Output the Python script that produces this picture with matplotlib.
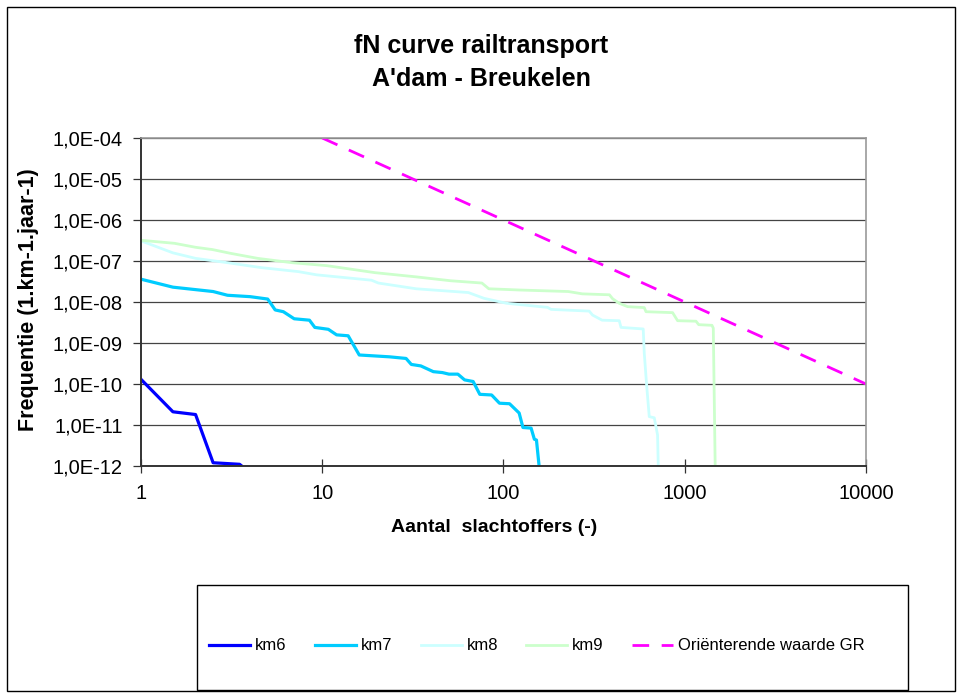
import matplotlib
matplotlib.use("Agg")
import matplotlib.pyplot as plt
from matplotlib.patches import Rectangle
from matplotlib.ticker import FixedLocator, NullLocator

plt.rcParams['font.family'] = ['Liberation Sans', 'DejaVu Sans']

km6_n = [1, 1.5, 2.0, 2.5, 3.5, 3.7]
km6_f = [1.3e-10, 2.1e-11, 1.8e-11, 1.2e-12, 1.1e-12, 9e-13]

km7_n = [1, 1.5, 2.5, 3.0, 4.0, 5.0, 5.5, 6.1, 7.0, 8.5,
         9.1, 10.8, 12.0, 13.9, 16.0, 23.5, 29, 31, 35, 41,
         46, 50, 56, 61, 68, 74, 86, 95, 108, 122,
         128, 142, 148, 152, 158]
km7_f = [3.6e-8, 2.3e-8, 1.8e-8, 1.46e-8, 1.35e-8, 1.18e-8, 6.4e-9, 5.8e-9, 3.9e-9, 3.6e-9,
         2.4e-9, 2.16e-9, 1.58e-9, 1.5e-9, 5.1e-10, 4.6e-10, 4.2e-10, 3.0e-10, 2.76e-10, 2.0e-10,
         1.9e-10, 1.74e-10, 1.74e-10, 1.26e-10, 1.15e-10, 5.6e-11, 5.4e-11, 3.4e-11, 3.3e-11, 1.96e-11,
         8.7e-12, 8.4e-12, 4.5e-12, 4.3e-12, 8e-13]

km8_n = [1, 1.5, 2.0, 3.0, 4.6, 7.4, 9.3, 18.7, 20.4, 33,
         64, 78, 104, 175, 183, 297, 310, 350, 435, 445,
         590, 598, 616, 637, 679, 708, 715]
km8_f = [3.1e-7, 1.58e-7, 1.16e-7, 9.1e-8, 6.9e-8, 5.5e-8, 4.6e-8, 3.4e-8, 2.9e-8, 2.1e-8,
         1.7e-8, 1.23e-8, 9.3e-9, 7.4e-9, 6.6e-9, 6.0e-9, 4.8e-9, 3.6e-9, 3.5e-9, 2.4e-9,
         2.2e-9, 5.6e-10, 9.5e-11, 1.6e-11, 1.5e-11, 5.7e-12, 8e-13]

km9_n = [1, 1.53, 2.0, 2.48, 3.09, 4.4, 6.8, 10.6, 19.5, 33,
         51, 76, 83, 123, 228, 272, 384, 400, 435, 484,
         598, 611, 857, 913, 1153, 1194, 1413, 1437, 1473]
km9_f = [3.2e-7, 2.7e-7, 2.16e-7, 1.9e-7, 1.55e-7, 1.16e-7, 9.1e-8, 7.7e-8, 5.2e-8, 4.1e-8,
         3.3e-8, 2.9e-8, 2.1e-8, 1.96e-8, 1.8e-8, 1.58e-8, 1.5e-8, 1.2e-8, 9.3e-9, 7.7e-9,
         7.3e-9, 5.8e-9, 5.5e-9, 3.5e-9, 3.4e-9, 2.8e-9, 2.7e-9, 2.3e-9, 8e-13]

gr_n = [10, 10000]
gr_f = [1e-4, 1e-10]

x_ticks = [1, 10, 100, 1000, 10000]
x_labels = ["1", "10", "100", "1000", "10000"]
y_ticks = [1e-12, 1e-11, 1e-10, 1e-9, 1e-8, 1e-7, 1e-6, 1e-5, 1e-4]
y_labels = ["1,0E-12", "1,0E-11", "1,0E-10", "1,0E-09", "1,0E-08",
            "1,0E-07", "1,0E-06", "1,0E-05", "1,0E-04"]

W, H = 962, 696
fig = plt.figure(figsize=(W / 100, H / 100), dpi=100)

# outer chart border
fig.patches.append(Rectangle((7 / W, 1 - 691 / H), 948 / W, 684 / H, transform=fig.transFigure,
                             fill=False, edgecolor='black', linewidth=1.0))

left, right, top, bottom = 141, 866, 138, 466
ax = fig.add_axes([left / W, 1 - bottom / H, (right - left) / W, (bottom - top) / H])

ax.plot(km6_n, km6_f, color='#0000FF', lw=2.3, label='km6')
ax.plot(km7_n, km7_f, color='#00CCFF', lw=2.3, label='km7')
ax.plot(km8_n, km8_f, color='#CCFFFF', lw=2.0, label='km8')
ax.plot(km9_n, km9_f, color='#CCFFCC', lw=2.0, label='km9')
ax.plot(gr_n, gr_f, color='#FF00FF', lw=2.0, linestyle=(0, (6.0, 4.5)),
        label='Oriënterende waarde GR')

ax.set_xscale('log')
ax.set_yscale('log')
ax.set_xlim(1, 10000)
ax.set_ylim(1e-12, 1e-4)

ax.xaxis.set_major_locator(FixedLocator(x_ticks))
ax.xaxis.set_minor_locator(NullLocator())
ax.set_xticklabels(x_labels)
ax.yaxis.set_major_locator(FixedLocator(y_ticks))
ax.yaxis.set_minor_locator(NullLocator())
ax.set_yticklabels(y_labels)

ax.grid(axis='y', color='#444444', lw=0.9)
ax.set_axisbelow(True)
ax.tick_params(axis='y', direction='out', length=6, width=0.9, pad=7, labelsize=14.5, color='#333333')
ax.tick_params(axis='x', direction='inout', length=10, width=0.9, pad=8, labelsize=14.5, color='#333333')

for s in ['left', 'bottom']:
    ax.spines[s].set_color('#333333')
    ax.spines[s].set_linewidth(1.4)
for s in ['top', 'right']:
    ax.spines[s].set_color('#999999')
    ax.spines[s].set_linewidth(1.2)

fig.text(0.5, 1 - 46 / H, "fN curve railtransport", ha='center', va='center',
         fontsize=18, fontweight='bold')
fig.text(0.5, 1 - 79 / H, "A'dam - Breukelen", ha='center', va='center',
         fontsize=18, fontweight='bold')
fig.text(494 / W, 1 - 527 / H, "Aantal  slachtoffers (-)", ha='center', va='center',
         fontsize=14, fontweight='bold')
fig.text(29 / W, 1 - 300 / H, "Frequentie (1.km-1.jaar-1)", ha='center', va='center',
         rotation=90, fontsize=15.5, fontweight='bold')

# legend box
fig.patches.append(Rectangle((197 / W, 1 - 690 / H), 711 / W, 105 / H, transform=fig.transFigure,
                             fill=False, edgecolor='black', linewidth=1.0))
fig.legend(*ax.get_legend_handles_labels(), loc='center', bbox_to_anchor=(537 / W, 1 - 646 / H),
           ncol=5, frameon=False, fontsize=12, handlelength=2.45, handletextpad=0.3,
           columnspacing=1.7)

fig.savefig("out.png", dpi=100)
